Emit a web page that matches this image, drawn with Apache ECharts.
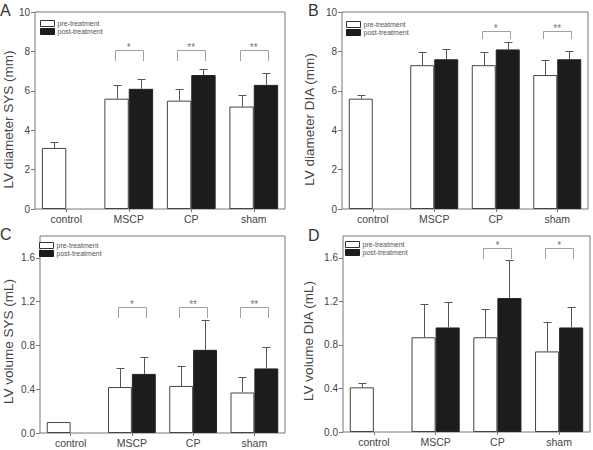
<!DOCTYPE html>
<html><head><meta charset="utf-8">
<script src="https://cdn.jsdelivr.net/npm/echarts@6/dist/echarts.min.js"></script>
<style>html,body{margin:0;padding:0;background:#fff}#c{width:593px;height:450px}</style>
</head><body><div id="c"></div>
<script>
// ---- data ----
const categories = ['control', 'MSCP', 'CP', 'sham'];
const seriesNames = ['pre-treatment', 'post-treatment'];
const panelLetters = ['A', 'B', 'C', 'D'];
const yNames = ['LV diameter SYS (mm)', 'LV diameter DIA (mm)', 'LV volume SYS (mL)', 'LV volume DIA (mL)'];
const diameterTicks = [0, 2, 4, 6, 8, 10];
const volumeTicks = [0, 0.4, 0.8, 1.2, 1.6];

// A: LV diameter SYS
const sysDiamPre = [3.1, 5.6, 5.5, 5.2];
const sysDiamPreSD = [0.3, 0.7, 0.6, 0.6];
const sysDiamPost = [null, 6.1, 6.8, 6.3];
const sysDiamPostSD = [null, 0.5, 0.3, 0.6];
const sysDiamSigCats = [1, 2, 3];
const sysDiamSigLabels = ['*', '**', '**'];
const sysDiamSigLevel = [8.05, 7.5];

// B: LV diameter DIA
const diaDiamPre = [5.6, 7.3, 7.3, 6.8];
const diaDiamPreSD = [0.2, 0.65, 0.67, 0.78];
const diaDiamPost = [null, 7.6, 8.1, 7.6];
const diaDiamPostSD = [null, 0.5, 0.4, 0.4];
const diaDiamSigCats = [2, 3];
const diaDiamSigLabels = ['*', '**'];
const diaDiamSigLevel = [9.05, 8.63];

// C: LV volume SYS
const sysVolPre = [0.10, 0.42, 0.43, 0.37];
const sysVolPreSD = [0, 0.17, 0.18, 0.14];
const sysVolPost = [null, 0.54, 0.76, 0.59];
const sysVolPostSD = [null, 0.15, 0.27, 0.20];
const sysVolSigCats = [1, 2, 3];
const sysVolSigLabels = ['*', '**', '**'];
const sysVolSigLevel = [1.15, 1.05];

// D: LV volume DIA
const diaVolPre = [0.41, 0.87, 0.87, 0.74];
const diaVolPreSD = [0.04, 0.31, 0.26, 0.27];
const diaVolPost = [null, 0.96, 1.23, 0.96];
const diaVolPostSD = [null, 0.23, 0.35, 0.19];
const diaVolSigCats = [2, 3];
const diaVolSigLabels = ['*', '*'];
const diaVolSigLevel = [1.69, 1.59];

// ---- build ----
const FONT = '"Liberation Sans", Arial, sans-serif';
const GAP = 0.22;
const panels = [
  {pre: sysDiamPre, preSD: sysDiamPreSD, post: sysDiamPost, postSD: sysDiamPostSD, sigCats: sysDiamSigCats, sigLabels: sysDiamSigLabels, sigLevel: sysDiamSigLevel, vol: false},
  {pre: diaDiamPre, preSD: diaDiamPreSD, post: diaDiamPost, postSD: diaDiamPostSD, sigCats: diaDiamSigCats, sigLabels: diaDiamSigLabels, sigLevel: diaDiamSigLevel, vol: false},
  {pre: sysVolPre, preSD: sysVolPreSD, post: sysVolPost, postSD: sysVolPostSD, sigCats: sysVolSigCats, sigLabels: sysVolSigLabels, sigLevel: sysVolSigLevel, vol: true},
  {pre: diaVolPre, preSD: diaVolPreSD, post: diaVolPost, postSD: diaVolPostSD, sigCats: diaVolSigCats, sigLabels: diaVolSigLabels, sigLevel: diaVolSigLevel, vol: true}
];
const layout = [
  {grid: {left: 34, top: 12, width: 251, height: 197}, letter: [0, 2], legend: [40, 20], nameGap: 18, namePad: 18},
  {grid: {left: 342, top: 12, width: 246, height: 197}, letter: [308, 2], legend: [346, 21], nameGap: 26, namePad: 18},
  {grid: {left: 33, top: 236, width: 252, height: 197}, letter: [0, 226], legend: [39, 242], nameGap: 25, namePad: 14},
  {grid: {left: 343, top: 236, width: 247, height: 196}, letter: [308, 227], legend: [345, 241], nameGap: 28, namePad: 14}
];

function errorSeries(gi, vals, sds, side) {
  const data = [];
  vals.forEach((v, i) => { if (v != null && sds[i]) data.push([i, v, sds[i]]); });
  return {
    type: 'custom', xAxisIndex: gi, yAxisIndex: gi, z: 5, silent: true,
    encode: {x: 0, y: 1}, data: data,
    renderItem: function (params, api) {
      const cat = api.value(0), v = api.value(1), sd = api.value(2);
      const band = api.size([1, 0])[0];
      const bw = band * (1 - GAP) / 2;
      const base = api.coord([cat, v]);
      const top = api.coord([cat, v + sd]);
      const x = Math.round(base[0] + side * bw / 2) + 0.5;
      const yt = Math.round(top[1]) + 0.5;
      return {type: 'group', children: [
        {type: 'line', shape: {x1: x, y1: base[1], x2: x, y2: yt}, style: {stroke: '#555', lineWidth: 1}},
        {type: 'line', shape: {x1: x - 4, y1: yt, x2: x + 4, y2: yt}, style: {stroke: '#555', lineWidth: 1}}
      ]};
    }
  };
}

function sigSeries(gi, cats, labels, level) {
  return {
    type: 'custom', xAxisIndex: gi, yAxisIndex: gi, z: 6, silent: true,
    encode: {x: 0, y: 1},
    data: cats.map(c => [c, level[0], level[1]]),
    renderItem: function (params, api) {
      const cat = api.value(0);
      const top = api.coord([cat, api.value(1)]);
      const arm = api.coord([cat, api.value(2)]);
      const band = api.size([1, 0])[0];
      const bw = band * (1 - GAP) / 2;
      const x1 = Math.round(top[0] - bw / 2 - 2) + 0.5, x2 = Math.round(top[0] + bw / 2 + 2) + 0.5;
      const yt = Math.round(top[1]) + 0.5, ya = Math.round(arm[1]);
      return {type: 'group', children: [
        {type: 'polyline', shape: {points: [[x1, ya], [x1, yt], [x2, yt], [x2, ya]]}, style: {stroke: '#a0a0a0', lineWidth: 1, fill: null}},
        {type: 'text', style: {text: labels[params.dataIndex], x: top[0], y: yt + 2, align: 'center', verticalAlign: 'bottom', fontSize: 10, fill: '#777', fontFamily: FONT}}
      ]};
    }
  };
}

const option = {
  animation: false,
  backgroundColor: '#fff',
  title: layout.map((l, i) => ({text: panelLetters[i], left: l.letter[0], top: l.letter[1], padding: 0,
    textStyle: {fontSize: 16, fontWeight: 'normal', color: '#333', fontFamily: FONT}})),
  legend: layout.map((l) => ({
    left: l.legend[0], top: l.legend[1], orient: 'vertical', padding: 0, itemGap: 1,
    itemWidth: 14, itemHeight: 6, icon: 'rect', selectedMode: false,
    textStyle: {fontSize: 7, color: '#555', fontFamily: FONT, padding: [0, 0, 0, -2]},
    data: [
      {name: seriesNames[0], itemStyle: {color: '#fff', borderColor: '#333', borderWidth: 1}},
      {name: seriesNames[1], itemStyle: {color: '#1c1c1c', borderColor: '#1c1c1c', borderWidth: 1}}
    ]
  })),
  grid: layout.map(l => Object.assign({show: true, borderColor: '#777', borderWidth: 1, backgroundColor: 'transparent'}, l.grid)),
  xAxis: layout.map((l, i) => ({
    type: 'category', gridIndex: i, data: categories,
    axisLine: {show: false},
    axisTick: {show: true, alignWithLabel: true, length: 3, lineStyle: {color: '#777'}},
    axisLabel: {fontSize: 10.5, color: '#444', margin: 4, fontFamily: FONT}
  })),
  yAxis: panels.map((p, i) => {
    const ticks = p.vol ? volumeTicks : diameterTicks;
    return {
      type: 'value', gridIndex: i, min: 0, max: p.vol ? 1.8 : 10, interval: p.vol ? 0.4 : 2,
      name: yNames[i], nameLocation: 'middle', nameGap: layout[i].nameGap,
      nameTextStyle: {fontSize: 13.5, color: '#444', fontFamily: FONT, padding: [0, layout[i].namePad, 0, 0]},
      splitLine: {show: false},
      axisLine: {show: false},
      axisTick: {show: true, length: 4, lineStyle: {color: '#777'}, customValues: ticks},
      axisLabel: {fontSize: 10, color: '#444', margin: 5, fontFamily: FONT, customValues: ticks,
        formatter: v => p.vol ? Number(v).toFixed(1) : String(v)}
    };
  }),
  series: []
};

panels.forEach((p, i) => {
  option.series.push({
    type: 'bar', name: seriesNames[0], xAxisIndex: i, yAxisIndex: i, data: p.pre,
    barGap: '0%', barCategoryGap: (GAP * 100) + '%', silent: true,
    itemStyle: {color: '#fff', borderColor: '#444', borderWidth: 1}
  });
  option.series.push({
    type: 'bar', name: seriesNames[1], xAxisIndex: i, yAxisIndex: i, data: p.post,
    barGap: '0%', barCategoryGap: (GAP * 100) + '%', silent: true,
    itemStyle: {color: '#1c1c1c', borderColor: '#222', borderWidth: 1}
  });
  option.series.push(errorSeries(i, p.pre, p.preSD, -1));
  option.series.push(errorSeries(i, p.post, p.postSD, 1));
  option.series.push(sigSeries(i, p.sigCats, p.sigLabels, p.sigLevel));
});

const chart = echarts.init(document.getElementById('c'), null, {renderer: 'svg'});
chart.setOption(option);
</script>
</body></html>
